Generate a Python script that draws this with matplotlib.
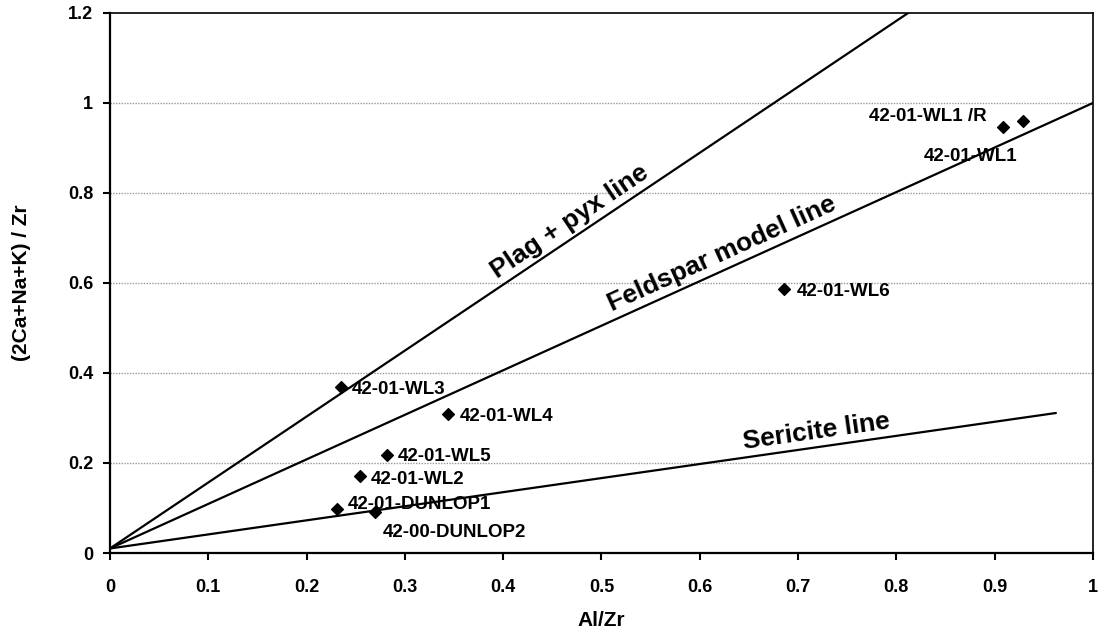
import matplotlib
matplotlib.use("Agg")
import matplotlib.pyplot as plt
import numpy as np

plt.rcParams['font.family'] = ['Liberation Sans', 'DejaVu Sans']
plt.rcParams['font.weight'] = 'bold'

# data
names = ["42-01-WL1 /R", "42-01-WL1", "42-01-WL6", "42-01-WL3", "42-01-WL4",
         "42-01-WL5", "42-01-WL2", "42-01-DUNLOP1", "42-00-DUNLOP2"]
al_zr = [0.909, 0.929, 0.686, 0.235, 0.344, 0.282, 0.254, 0.231, 0.270]
ca_zr = [0.947, 0.960, 0.587, 0.369, 0.309, 0.218, 0.171, 0.098, 0.091]

plag_x = [0.0, 0.812]
plag_y = [0.01, 1.2]
feld_x = [0.0, 1.0]
feld_y = [0.01, 1.0]
seri_x = [0.0, 0.962]
seri_y = [0.01, 0.311]

xticks = [0, 0.1, 0.2, 0.3, 0.4, 0.5, 0.6, 0.7, 0.8, 0.9, 1]
xtick_labels = ["0", "0.1", "0.2", "0.3", "0.4", "0.5", "0.6", "0.7", "0.8", "0.9", "1"]
yticks = [0, 0.2, 0.4, 0.6, 0.8, 1.0, 1.2]
ytick_labels = ["0", "0.2", "0.4", "0.6", "0.8", "1", "1.2"]

fig = plt.figure(figsize=(10.99, 6.36), dpi=100)
ax = fig.add_axes([0.1, 0.1305, 0.8945, 0.8491])
ax.set_xlim(0, 1)
ax.set_ylim(0, 1.2)

for y in yticks[1:-1]:
    ax.axhline(y, color='#999999', linestyle=(0, (1, 1)), linewidth=1.0, zorder=0)

ax.plot(plag_x, plag_y, color='black', linewidth=1.6)
ax.plot(feld_x, feld_y, color='black', linewidth=1.6)
ax.plot(seri_x, seri_y, color='black', linewidth=1.6)

ax.scatter(al_zr, ca_zr, marker='D', s=36, color='black', zorder=5)

# label offsets in pixels (dx right, dy down), converted to points
px_offsets = {
    "42-01-WL1 /R": (-17, -10, 'right'),
    "42-01-WL1": (-99, 36, 'left'),
    "42-01-WL6": (12, 3, 'left'),
    "42-01-WL3": (11, 3, 'left'),
    "42-01-WL4": (12, 3, 'left'),
    "42-01-WL5": (11, 2, 'left'),
    "42-01-WL2": (11, 3, 'left'),
    "42-01-DUNLOP1": (11, -4, 'left'),
    "42-00-DUNLOP2": (7, 20, 'left'),
}
for n, x, y in zip(names, al_zr, ca_zr):
    dx, dy, ha = px_offsets[n]
    ax.annotate(n, (x, y), xytext=(dx * 0.72, -dy * 0.72), textcoords='offset points',
                ha=ha, va='center', fontsize=13.5, fontweight='bold')

ax.text(0.468, 0.736, "Plag + pyx line", rotation=33.9, ha='center', va='center',
        fontsize=19, fontweight='bold', rotation_mode='anchor')
ax.text(0.623, 0.664, "Feldspar model line", rotation=24.4, ha='center', va='center',
        fontsize=19, fontweight='bold', rotation_mode='anchor')
ax.text(0.719, 0.269, "Sericite line", rotation=8.1, ha='center', va='center',
        fontsize=19, fontweight='bold', rotation_mode='anchor')

ax.set_xticks(xticks)
ax.set_xticklabels(xtick_labels)
ax.set_yticks(yticks)
ax.set_yticklabels(ytick_labels)
ax.tick_params(direction='out', length=5, width=1.5, labelsize=13)
ax.tick_params(axis='x', pad=14)
ax.tick_params(axis='y', pad=7)
for lab in ax.get_xticklabels() + ax.get_yticklabels():
    lab.set_fontweight('bold')
for s in ax.spines.values():
    s.set_linewidth(1.6)
ax.spines['right'].set_linewidth(1.2)
ax.spines['top'].set_linewidth(1.2)

ax.set_xlabel("Al/Zr", fontsize=15, fontweight='bold')
ax.set_ylabel("(2Ca+Na+K) / Zr", fontsize=15, fontweight='bold')
ax.xaxis.set_label_coords(0.5, (636 - 620) / 636 / 0.8491 - 0.1305 / 0.8491, transform=ax.transAxes)
ax.yaxis.set_label_coords(22 / 1099 / 0.8945 - 0.1 / 0.8945, 0.5, transform=ax.transAxes)
ax.xaxis.label.set_va('center')
ax.yaxis.label.set_va('center')

fig.savefig("out.png", dpi=100)
